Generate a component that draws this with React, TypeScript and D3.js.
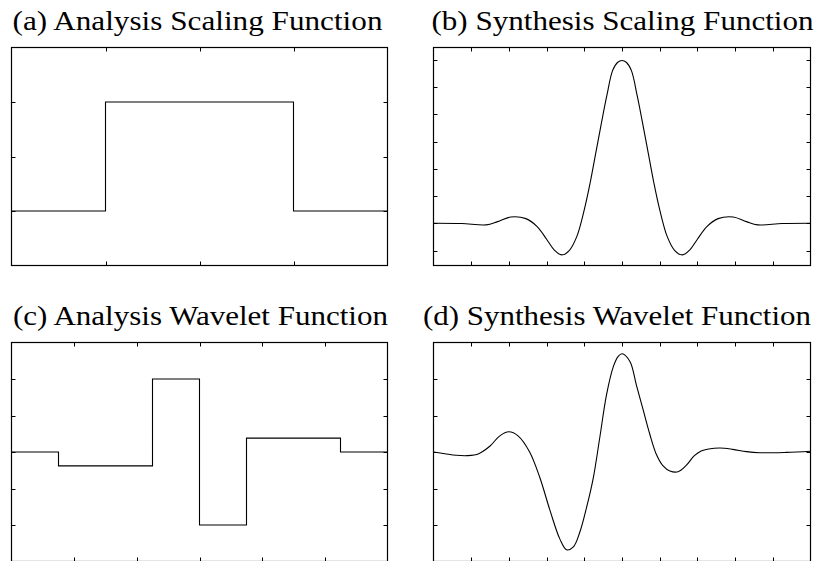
import React from "react";
import * as d3 from "d3";

const W = 823;
const H = 561;

// (a) Analysis scaling function: piecewise constant
const aX = [0, 1, 3, 4];
const aY = [0, 1, 0, 0];
const aTicksX = [1, 2, 3];
const aTicksY = [0, 0.5, 1];

// (b) Synthesis scaling function samples
const bX = [0, 0.75, 1.4, 1.7, 2.05, 2.45, 2.75, 3.0, 3.2, 3.4, 3.6, 3.8, 4.0, 4.15, 4.3, 4.45, 4.6, 4.75, 4.88, 5.0,
  5.12, 5.25, 5.4, 5.55, 5.7, 5.85, 6.0, 6.2, 6.4, 6.6, 6.8, 7.0, 7.25, 7.55, 7.95, 8.3, 8.6, 9.25, 10];
const bY = [0, -0.002, -0.012, 0.012, 0.046, 0.034, -0.024, -0.117, -0.195, -0.232, -0.2, -0.098, 0.1, 0.29, 0.51, 0.73, 0.94, 1.12, 1.18, 1.195,
  1.18, 1.12, 0.94, 0.73, 0.51, 0.29, 0.1, -0.098, -0.2, -0.232, -0.195, -0.117, -0.024, 0.034, 0.046, 0.012, -0.012, -0.002, 0];
const bTicksX = [1, 2, 3, 4, 5, 6, 7, 8, 9];
const bTicksY = [-0.2, 0, 0.2, 0.4, 0.6, 0.8, 1.0, 1.2];

// (c) Analysis wavelet function: piecewise constant
const cX = [0, 0.75, 2.25, 3, 3.75, 5.25, 6];
const cY = [0, -0.19, 1, -1, 0.19, 0, 0];
const cTicksX = [1, 2, 3, 4, 5];
const cTicksY = [-1, -0.5, 0, 0.5, 1];

// (d) Synthesis wavelet function samples
const dX = [0, 0.3, 0.6, 0.9, 1.2, 1.5, 1.75, 2.0, 2.25, 2.55, 2.82, 3.09, 3.35, 3.53, 3.71, 3.88, 4.06, 4.24, 4.41, 4.59, 4.77, 4.9, 5.0,
  5.21, 5.38, 5.56, 5.74, 5.91, 6.09, 6.27, 6.49, 6.71, 6.92, 7.1, 7.3, 7.6, 7.94, 8.3, 8.65, 9.36, 10];
const dY = [0, -0.023, -0.045, -0.05, -0.023, 0.082, 0.218, 0.277, 0.218, 0.0, -0.35, -0.8, -1.19, -1.34, -1.3, -1.1, -0.76, -0.35, 0.195, 0.786, 1.17, 1.31, 1.345,
  1.24, 0.92, 0.58, 0.24, -0.03, -0.19, -0.26, -0.27, -0.18, -0.05, 0.015, 0.042, 0.055, 0.036, 0.005, -0.01, -0.005, 0.01];
const dTicksX = [1, 2, 3, 4, 5, 6, 7, 8, 9];
const dTicksY = [-1, -0.5, 0, 0.5, 1];

const titles = [
  "(a) Analysis Scaling Function",
  "(b) Synthesis Scaling Function",
  "(c) Analysis Wavelet Function",
  "(d) Synthesis Wavelet Function",
];

type PanelProps = {
  title: string;
  titleX: number;
  titleY: number;
  titleW: number;
  left: number;
  right: number;
  top: number;
  bottom: number;
  xDomain: [number, number];
  yDomain: [number, number];
  xTicks: number[];
  yTicks: number[];
  xs: number[];
  ys: number[];
  step: boolean;
};

const TICK = 4;

function Panel(p: PanelProps) {
  const x = d3.scaleLinear().domain(p.xDomain).range([p.left, p.right]);
  const y = d3.scaleLinear().domain(p.yDomain).range([p.bottom, p.top]);
  const pts: [number, number][] = p.xs.map((v, i) => [v, p.ys[i]]);
  const line = d3
    .line<[number, number]>()
    .x((d) => x(d[0]))
    .y((d) => y(d[1]))
    .curve(p.step ? d3.curveStepAfter : d3.curveCatmullRom.alpha(0.5));
  const stroke = "#000";
  return (
    <g>
      <text
        x={p.titleX}
        y={p.titleY}
        textLength={p.titleW}
        lengthAdjust="spacingAndGlyphs"
        fontFamily="'Liberation Serif', serif"
        fontSize={26.5}
        fill="#000"
      >
        {p.title}
      </text>
      <path d={line(pts) || ""} fill="none" stroke={stroke} strokeWidth={1.1} />
      {p.xTicks.map((t) => (
        <g key={"x" + t}>
          <line x1={Math.round(x(t)) + 0.5} x2={Math.round(x(t)) + 0.5} y1={p.top} y2={p.top + TICK} stroke={stroke} strokeWidth={1} />
          <line x1={Math.round(x(t)) + 0.5} x2={Math.round(x(t)) + 0.5} y1={p.bottom} y2={p.bottom - TICK} stroke={stroke} strokeWidth={1} />
        </g>
      ))}
      {p.yTicks.map((t) => (
        <g key={"y" + t}>
          <line y1={Math.round(y(t)) + 0.5} y2={Math.round(y(t)) + 0.5} x1={p.left} x2={p.left + TICK} stroke={stroke} strokeWidth={1} />
          <line y1={Math.round(y(t)) + 0.5} y2={Math.round(y(t)) + 0.5} x1={p.right} x2={p.right - TICK} stroke={stroke} strokeWidth={1} />
        </g>
      ))}
      <rect
        x={p.left}
        y={p.top}
        width={p.right - p.left}
        height={p.bottom - p.top}
        fill="none"
        stroke={stroke}
        strokeWidth={1.2}
      />
    </g>
  );
}

export default function App() {
  const L1 = 11.5, R1 = 387.5;
  const L2 = 433.5, R2 = 810.5;
  const T1 = 47.5, B1 = 265.5;
  const T2 = 342.5, B2 = 561.5;
  return (
    <svg
      width={W}
      height={H}
      viewBox={`0 0 ${W} ${H}`}
      style={{ position: "absolute", left: 0, top: 0, background: "#fff" }}
    >
      <rect x={0} y={0} width={W} height={H} fill="#fff" />
      <Panel
        title={titles[0]} titleX={12.5} titleY={29.5} titleW={370}
        left={L1} right={R1} top={T1} bottom={B1}
        xDomain={[0, 4]} yDomain={[-0.5, 1.5]} xTicks={aTicksX} yTicks={aTicksY}
        xs={aX} ys={aY} step={true}
      />
      <Panel
        title={titles[1]} titleX={431.5} titleY={29.5} titleW={382}
        left={L2} right={R2} top={T1} bottom={B1}
        xDomain={[0, 10]} yDomain={[-0.31, 1.29]} xTicks={bTicksX} yTicks={bTicksY}
        xs={bX} ys={bY} step={false}
      />
      <Panel
        title={titles[2]} titleX={13} titleY={325} titleW={375}
        left={L1} right={R1} top={T2} bottom={B2}
        xDomain={[0, 6]} yDomain={[-1.5, 1.5]} xTicks={cTicksX} yTicks={cTicksY}
        xs={cX} ys={cY} step={true}
      />
      <Panel
        title={titles[3]} titleX={423} titleY={325} titleW={388}
        left={L2} right={R2} top={T2} bottom={B2}
        xDomain={[0, 10]} yDomain={[-1.5, 1.5]} xTicks={dTicksX} yTicks={dTicksY}
        xs={dX} ys={dY} step={false}
      />
    </svg>
  );
}
